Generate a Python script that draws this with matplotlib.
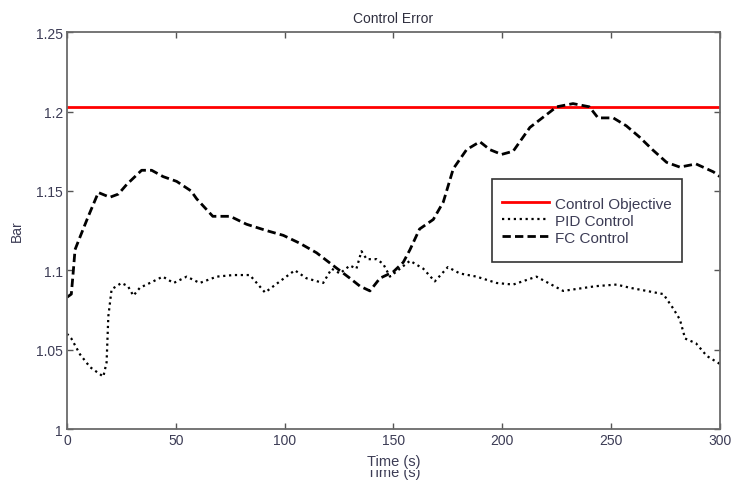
import numpy as np
import matplotlib
matplotlib.use("Agg")
import matplotlib.pyplot as plt
from matplotlib.patches import Rectangle

plt.rcParams['font.family'] = ['Liberation Sans', 'DejaVu Sans']

# control objective (constant set point)
objective = 1.203

# PID control response
pid_t = [0, 2, 6, 10.6, 16.7, 18.2, 19, 20.5, 25, 28, 30.5, 33.5, 39.6, 44, 49, 55, 61,
         68.8, 76.4, 84, 91, 97.8, 104.7, 110, 117.7, 121.6, 125.4, 130, 133, 135.3,
         137.7, 142.3, 145.3, 148.4, 153, 157.6, 163.7, 169, 175, 180.5, 188.2, 197.4,
         205, 215.7, 228, 243, 252.5, 258.6, 274, 278.5, 281.6, 284, 289, 294, 300]
pid_v = [1.060, 1.057, 1.047, 1.039, 1.033, 1.042, 1.071, 1.088, 1.092, 1.090, 1.084,
         1.089, 1.093, 1.096, 1.092, 1.096, 1.092, 1.096, 1.097, 1.097, 1.086, 1.093,
         1.100, 1.095, 1.092, 1.101, 1.098, 1.103, 1.101, 1.112, 1.107, 1.107, 1.104,
         1.096, 1.101, 1.106, 1.101, 1.093, 1.102, 1.098, 1.096, 1.092, 1.091, 1.096,
         1.087, 1.090, 1.091, 1.089, 1.085, 1.076, 1.069, 1.057, 1.054, 1.046, 1.041]

# FC control response
fc_t = [0, 2, 3, 3.7, 6, 9.8, 14.4, 19.7, 23.6, 27.4, 34.3, 38.9, 44.2, 50.4, 57, 59.6,
        67, 75, 82.5, 91.7, 99.4, 107, 114.7, 122.3, 130, 134.6, 139.2, 143.8, 149.9,
        154.5, 157.6, 162, 168.3, 172.9, 177.5, 183.6, 189.7, 194.3, 199.7, 205, 212.7,
        225, 232.5, 240, 244, 251, 257, 263, 269, 275.5, 281.6, 289, 297, 300]
fc_v = [1.083, 1.085, 1.101, 1.113, 1.121, 1.134, 1.149, 1.146, 1.148, 1.154, 1.163,
        1.163, 1.159, 1.156, 1.150, 1.145, 1.134, 1.134, 1.129, 1.125, 1.122, 1.117,
        1.111, 1.103, 1.095, 1.090, 1.087, 1.095, 1.099, 1.105, 1.113, 1.126, 1.132,
        1.143, 1.164, 1.176, 1.181, 1.176, 1.173, 1.175, 1.190, 1.203, 1.205, 1.203,
        1.196, 1.196, 1.191, 1.184, 1.176, 1.168, 1.165, 1.167, 1.162, 1.159]

fig = plt.figure(figsize=(7.32, 4.81), dpi=100)
ax = fig.add_axes([0.0915, 0.106, 0.892, 0.825])
ax.set_zorder(5)

ax.axhline(objective, color='red', lw=2, label='Control Objective')
ax.plot(pid_t, pid_v, color='black', ls=':', lw=1.6, label='PID Control')
ax.plot(fc_t, fc_v, color='black', ls='--', lw=2, dashes=(3, 1.5), label='FC Control')

ax.set_xlim(0, 300)
ax.set_ylim(1, 1.25)
ax.set_xticks(np.arange(0, 301, 50))
ax.set_yticks([1, 1.05, 1.1, 1.15, 1.2, 1.25])
ax.set_yticklabels(['1', '1.05', '1.1', '1.15', '1.2', '1.25'])

lab_col = '#3c3c55'
ax.tick_params(direction='in', top=True, right=True, length=4, width=1,
               color='#555555', labelsize=10, labelcolor=lab_col, pad=3)
for sp in ax.spines.values():
    sp.set_color('#6a6a6a')
    sp.set_linewidth(1.3)

ax.set_title('Control Error', fontsize=10, color='#303040', pad=7)
ax.set_ylabel('Bar', fontsize=10, color=lab_col)
ax.yaxis.set_label_coords(-0.066, 0.5)
ax.set_xlabel('Time (s)', fontsize=10.5, color=lab_col, labelpad=5)

# second axis label under the first one, its top hidden by a white band
fig.text(0.5375, 1 - 473 / 481, 'Time (s)', fontsize=10.5, color=lab_col,
         ha='center', va='center', zorder=1)
fig.add_artist(Rectangle((0.3, 1 - 470.5 / 481), 0.4, 14 / 481, transform=fig.transFigure,
                         facecolor='white', edgecolor='none', zorder=2))

# legend with a hand-placed frame
box = (0.651, 0.42, 0.291, 0.21)
ax.add_patch(Rectangle(box[:2], box[2], box[3], transform=ax.transAxes,
                       facecolor='white', edgecolor='#333333', lw=1.2, zorder=4))
leg = ax.legend(loc='center left', bbox_to_anchor=box, fontsize=11, frameon=False,
                handlelength=3.1, handletextpad=0.4, borderpad=0, borderaxespad=0.65,
                labelspacing=0.2)
leg.set_zorder(6)
for txt in leg.get_texts():
    txt.set_color(lab_col)

fig.savefig('out.png', dpi=100)
